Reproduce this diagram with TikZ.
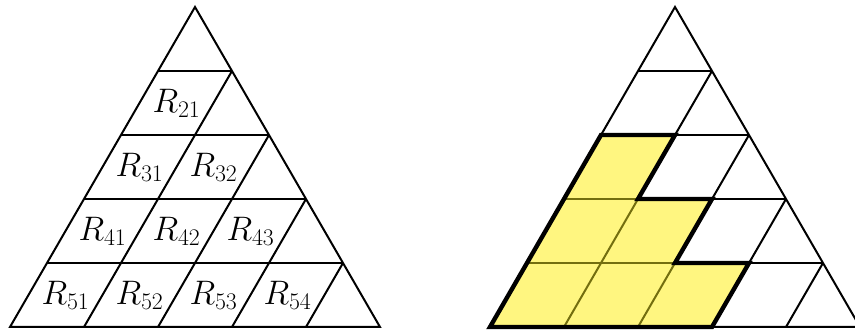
\documentclass[tikz,border=0pt]{standalone}
\usepackage{fix-cm}
\definecolor{hl}{RGB}{255,246,128}
\definecolor{innerline}{RGB}{115,110,15}
\begin{document}
\begin{tikzpicture}[x=1pt,y=1pt,
  gridline/.style={line width=2pt, line join=miter},
  innergrid/.style={line width=2pt, draw=innerline},
  outline/.style={line width=4.4pt, line join=miter, line cap=rect},
  lab/.style={inner sep=0pt, font=\fontsize{34}{40}\selectfont}]
\useasboundingbox (0,0) rectangle (855,332);
\clip (0,0) rectangle (855,332);
% left triangle
\begin{scope}[shift={(10pt,5pt)}, x={(74pt,0pt)}, y={(37pt,64pt)}]
  \draw[gridline] (0,0) -- (5,0) -- (0,5) -- cycle;
  \foreach \b in {1,...,4} {\draw[gridline] (0,\b) -- ({5-\b},\b);}
  \foreach \a in {1,...,4} {\draw[gridline] (\a,0) -- (\a,{5-\a});}
  \foreach \i in {2,...,5} {
    \pgfmathtruncatemacro{\last}{\i-1}
    \foreach \j in {1,...,\last} {
      \node[lab] (r\i\j) at ({\j-0.5},{5-\i+0.5}) {$R_{\i\j}$};
    }
  }
\end{scope}
% right triangle
\begin{scope}[shift={(490pt,5pt)}, x={(74pt,0pt)}, y={(37pt,64pt)}]
  \fill[hl] (0,0) -- (3,0) -- (3,1) -- (2,1) -- (2,2) -- (1,2) -- (1,3) -- (0,3) -- cycle;
  \draw[gridline] (0,0) -- (5,0) -- (0,5) -- cycle;
  \draw[gridline] (0,4) -- (1,4);
  \draw[gridline] (1,3) -- (2,3);
  \draw[gridline] (2,2) -- (3,2);
  \draw[gridline] (3,1) -- (4,1);
  \draw[gridline] (1,3) -- (1,4);
  \draw[gridline] (2,2) -- (2,3);
  \draw[gridline] (3,1) -- (3,2);
  \draw[gridline] (4,0) -- (4,1);
  \draw[innergrid] (0,1) -- (2,1);
  \draw[innergrid] (0,2) -- (1,2);
  \draw[innergrid] (1,0) -- (1,2);
  \draw[innergrid] (2,0) -- (2,1);
  \draw[outline] (0,0) -- (3,0) -- (3,1) -- (2,1) -- (2,2) -- (1,2) -- (1,3) -- (0,3) -- cycle;
\end{scope}
\end{tikzpicture}
\end{document}
